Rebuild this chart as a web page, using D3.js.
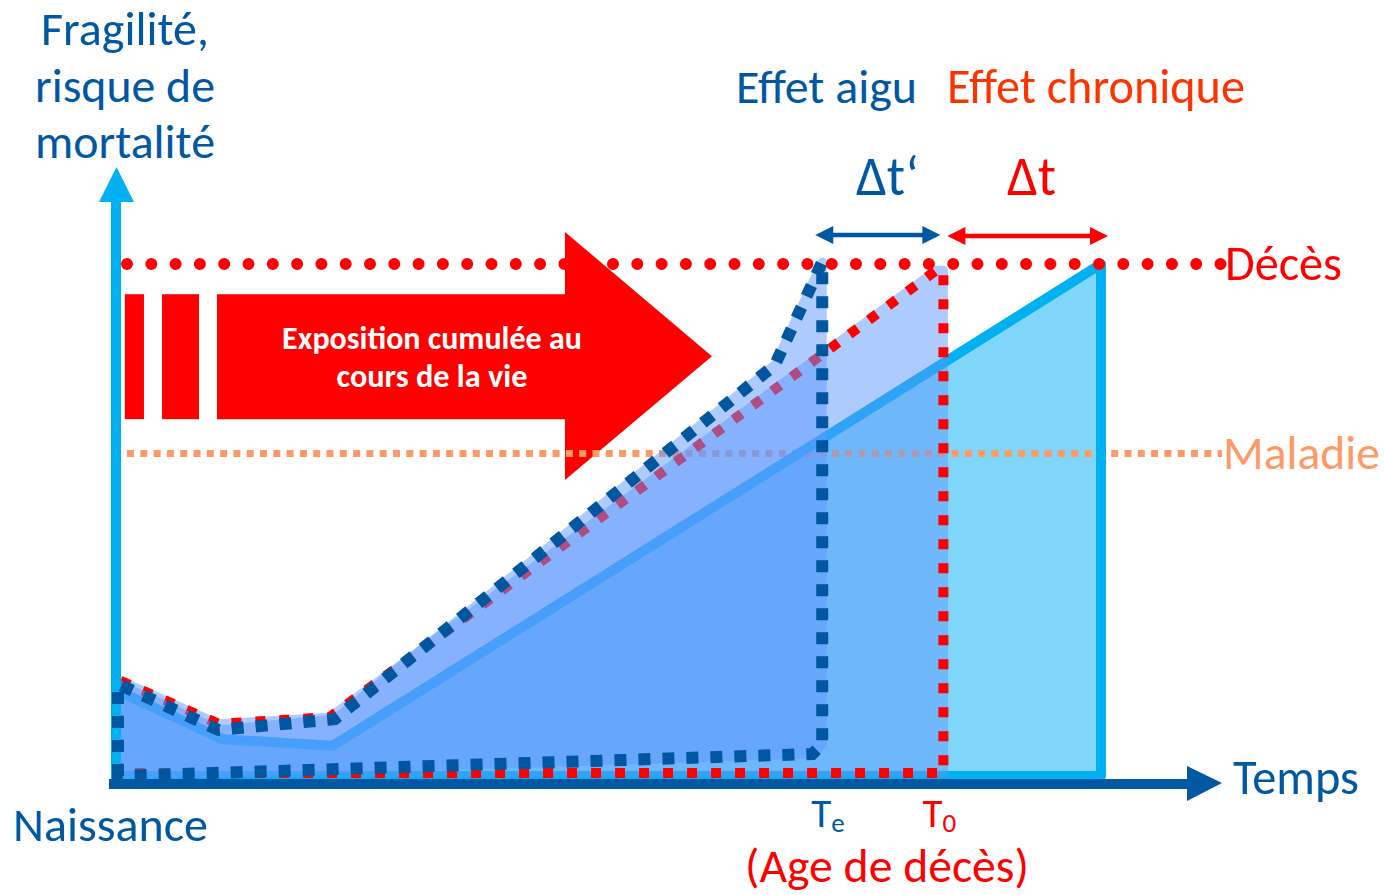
<!DOCTYPE html>
<html lang="fr">
<head>
<meta charset="utf-8">
<script src="https://cdn.jsdelivr.net/npm/d3@7"></script>
<style>
  html, body { margin: 0; padding: 0; background: #ffffff; }
  svg { display: block; }
  text { font-family: Carlito, Lato, "Open Sans", sans-serif; }
</style>
</head>
<body>
<svg id="chart" width="1384" height="895"></svg>
<script>
// Time axis (birth = 0, natural death = 100) and frailty axis (death threshold = 100)
const timeDomain = [0, 100];
const riskDomain = [0, 100];
const deathLevel = 100;
const diseaseLevel = 63;
const tAcute = 71.7;    // T_e : death after acute exposure
const tChronic = 84;    // T_0 : death after chronic exposure
const tNatural = 100;   // death without exposure

// Unexposed frailty trajectory
const baseT = [0, 10.8, 22, 100];
const baseR = [16.8, 7.2, 5.9, 100];

// Frailty under chronic exposure (closed outline, red)
const chronT = [0.2, 0.2, 10.4, 21.7, 83.3, 84, 84];
const chronR = [0.6, 18.8, 10.2, 11.5, 98.8, 98.8, 0.6];

// Frailty under acute exposure (closed outline, blue)
const acuteT = [0.2, 0.2, 10.4, 22.2, 66.9, 71.7, 71.7, 70.7];
const acuteR = [0, 18, 9.0, 11.1, 80.3, 100.4, 6.2, 4.3];

const svg = d3.select("#chart");
const x = d3.scaleLinear().domain(timeDomain).range([116, 1101]);
const y = d3.scaleLinear().domain(riskDomain).range([776, 264]);

const line = d3.line().x(d => x(d[0])).y(d => y(d[1]));
const closed = pts => line(pts) + "Z";

const BLUE = "#0057a2", CYAN = "#00b0f0", RED = "#ff0000";
const FILL = "#5f99ff";

// ---- Cumulative exposure arrow ----
const arrow = svg.append("g").attr("fill", RED);
arrow.append("rect").attr("x", x(0.9)).attr("y", y(94.1))
  .attr("width", x(2.84) - x(0.9)).attr("height", y(69.7) - y(94.1));
arrow.append("rect").attr("x", x(4.67)).attr("y", y(94.1))
  .attr("width", x(8.43) - x(4.67)).attr("height", y(69.7) - y(94.1));
arrow.append("path").attr("d", line([
  [10.25, 94.1], [45.58, 94.1], [45.58, 106.25], [60.5, 82.0],
  [45.58, 57.8], [45.58, 69.7], [10.25, 69.7]
]) + "Z");

// ---- Unexposed trajectory: area under the curve ----
const basePts = d3.zip(baseT, baseR);
const basePoly = basePts.concat([[tNatural, 0], [0, 0]]);
svg.append("path").attr("d", closed(basePoly))
  .attr("fill", "#80d6f8").attr("stroke", "none");

// Disease threshold
svg.append("line")
  .attr("x1", 127).attr("x2", 1222)
  .attr("y1", y(diseaseLevel)).attr("y2", y(diseaseLevel))
  .attr("stroke", "#ff9a66").attr("stroke-width", 7)
  .attr("stroke-dasharray", "7 6.3");

svg.append("path").attr("d", closed(basePoly))
  .attr("fill", "none").attr("stroke", CYAN).attr("stroke-width", 10)
  .attr("stroke-linejoin", "round");

// ---- Chronic exposure: shaded area then dotted outline ----
const chronPts = d3.zip(chronT, chronR);
const acutePts = d3.zip(acuteT, acuteR);

svg.append("g").attr("opacity", 0.5)
  .append("path").attr("d", closed(chronPts))
  .attr("fill", FILL).attr("stroke", FILL).attr("stroke-width", 9)
  .attr("stroke-linejoin", "round");

svg.append("path").attr("d", closed(chronPts))
  .attr("fill", "none").attr("stroke", RED).attr("stroke-width", 10)
  .attr("stroke-dasharray", "10 14");

// ---- Acute exposure: shaded area ----
svg.append("g").attr("opacity", 0.5)
  .append("path").attr("d", closed(acutePts))
  .attr("fill", FILL).attr("stroke", FILL).attr("stroke-width", 9)
  .attr("stroke-linejoin", "round");

// Death threshold
svg.append("line")
  .attr("x1", 127).attr("x2", 1222)
  .attr("y1", y(deathLevel)).attr("y2", y(deathLevel))
  .attr("stroke", RED).attr("stroke-width", 12)
  .attr("stroke-linecap", "round")
  .attr("stroke-dasharray", "0 24.3");

// ---- Axes ----
svg.append("line").attr("x1", x(0)).attr("x2", x(0))
  .attr("y1", 784).attr("y2", 198)
  .attr("stroke", CYAN).attr("stroke-width", 10);
svg.append("path")
  .attr("d", `M${x(0) - 17},202 L${x(0) + 0.5},167 L${x(0) + 18},202 Z`)
  .attr("fill", CYAN);

svg.append("line").attr("x1", 109).attr("x2", 1190)
  .attr("y1", 784).attr("y2", 784)
  .attr("stroke", BLUE).attr("stroke-width", 10);
svg.append("path")
  .attr("d", "M1187,766 L1222,783 L1187,801 Z")
  .attr("fill", BLUE);

// Acute exposure dotted outline (on top)
svg.append("path").attr("d", closed(acutePts))
  .attr("fill", "none").attr("stroke", "#00569f").attr("stroke-width", 12)
  .attr("stroke-dasharray", "12 12");

// ---- Life-shortening double arrows ----
function doubleArrow(t1, t2, dx1, dx2, yy, color) {
  const x1 = x(t1) + dx1, x2 = x(t2) + dx2, hl = 18, hw = 9;
  const g = svg.append("g");
  g.append("line").attr("x1", x1 + hl - 2).attr("x2", x2 - hl + 2)
    .attr("y1", yy).attr("y2", yy)
    .attr("stroke", color).attr("stroke-width", 4.5);
  g.append("path").attr("fill", color)
    .attr("d", `M${x1},${yy} L${x1 + hl},${yy - hw} L${x1 + hl},${yy + hw} Z`);
  g.append("path").attr("fill", color)
    .attr("d", `M${x2},${yy} L${x2 - hl},${yy - hw} L${x2 - hl},${yy + hw} Z`);
}
doubleArrow(tAcute, tChronic, -7, -3, 235, BLUE);
doubleArrow(tChronic, tNatural, 4, 7, 236, RED);

// ---- Labels ----
function label(txt, px, py, w, color, anchor, weight) {
  const t = svg.append("text").attr("x", px).attr("y", py)
    .attr("fill", color).attr("text-anchor", anchor || "start")
    .attr("font-weight", weight || "normal")
    .attr("font-size", 40).text(txt);
  const len = t.node().getComputedTextLength();
  t.attr("font-size", 40 * w / len);
  return t;
}

label("Fragilité,", 125, 45, 168, BLUE, "middle");
label("risque de", 125, 102, 180, BLUE, "middle");
label("mortalité", 125, 158, 180, BLUE, "middle");

label("Effet aigu", 736, 103, 181, BLUE);
label("Effet chronique", 947, 103, 298, "#ff3300");
label("\u0394t\u2018", 856, 195, 63, BLUE);
label("\u0394t", 1007, 195, 49, RED);

label("Décès", x(tNatural) + 124, y(deathLevel) + 16, 117, RED);
label("Maladie", x(tNatural) + 122, y(diseaseLevel) + 16, 157, "#ff9a66");
label("Temps", 1233, 794, 126, BLUE);
label("Naissance", 13, 841, 195, BLUE);

// Death ages on the time axis, with subscripts
function subLabel(main, sub, px, py, color) {
  const t = svg.append("text").attr("x", px).attr("y", py)
    .attr("fill", color).attr("font-size", 41);
  t.append("tspan").text(main);
  t.append("tspan").attr("font-size", 27).attr("dy", 5).text(sub);
}
subLabel("T", "e", x(tAcute) - 11, 827, BLUE);
subLabel("T", "0", x(tChronic) - 21, 827, RED);
label("(Age de décès)", 745, 882, 284, RED);

label("Exposition cumulée au", 432, 349, 300, "#ffffff", "middle", "bold");
label("cours de la vie", 432, 387, 191, "#ffffff", "middle", "bold");
</script>
</body>
</html>
